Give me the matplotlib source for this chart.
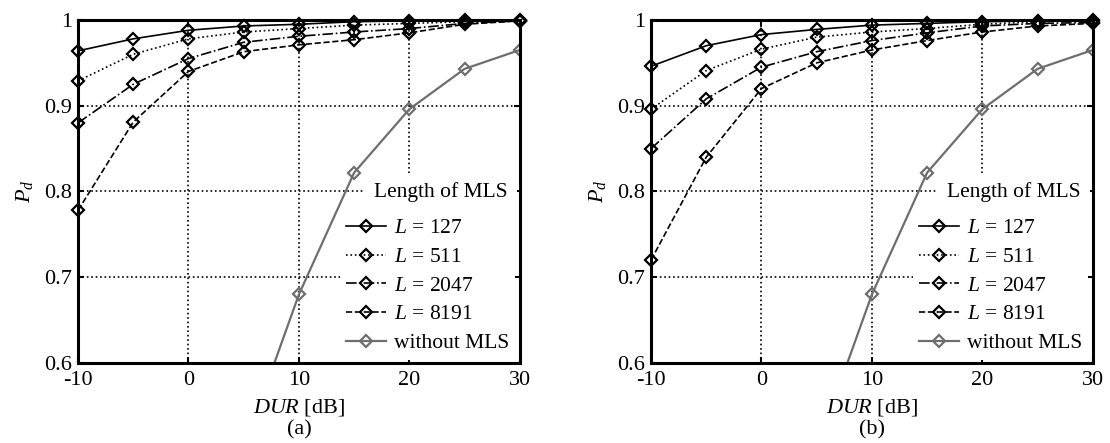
import numpy as np
import matplotlib
matplotlib.use("Agg")
import matplotlib.pyplot as plt

plt.rcParams['font.family'] = 'Liberation Serif'
plt.rcParams['mathtext.fontset'] = 'custom'
plt.rcParams['mathtext.rm'] = 'Liberation Serif'
plt.rcParams['mathtext.it'] = 'Liberation Serif:italic'
plt.rcParams['axes.unicode_minus'] = False
plt.rcParams['font.size'] = 15.5

# DUR axis values [dB]
dur = [-10, -5, 0, 5, 10, 15, 20, 25, 30]
dur_no_mls = [5, 10, 15, 20, 25, 30]

# panel (a)
pd_a_127 = [0.964, 0.978, 0.988, 0.993, 0.995, 0.998, 0.999, 1.000, 1.000]
pd_a_511 = [0.929, 0.960, 0.978, 0.986, 0.990, 0.994, 0.996, 0.998, 0.999]
pd_a_2047 = [0.880, 0.925, 0.955, 0.974, 0.981, 0.986, 0.990, 0.996, 0.999]
pd_a_8191 = [0.778, 0.881, 0.940, 0.963, 0.971, 0.977, 0.985, 0.995, 0.999]
pd_a_none = [0.50, 0.680, 0.822, 0.896, 0.943, 0.965]

# panel (b)
pd_b_127 = [0.946, 0.970, 0.983, 0.989, 0.994, 0.996, 0.998, 0.999, 1.000]
pd_b_511 = [0.896, 0.941, 0.966, 0.980, 0.986, 0.990, 0.995, 0.998, 0.999]
pd_b_2047 = [0.850, 0.908, 0.945, 0.963, 0.976, 0.985, 0.993, 0.996, 0.997]
pd_b_8191 = [0.720, 0.840, 0.920, 0.950, 0.965, 0.976, 0.986, 0.993, 0.996]
pd_b_none = [0.50, 0.680, 0.822, 0.896, 0.943, 0.965]

labels = ['$L$ = 127', '$L$ = 511', '$L$ = 2047', '$L$ = 8191', 'without MLS']
styles = ['-', ':', '-.', '--']
xticks = [-10, 0, 10, 20, 30]
yticks = [0.6, 0.7, 0.8, 0.9, 1.0]
yticklabels = ['0.6', '0.7', '0.8', '0.9', '1']

fig = plt.figure(figsize=(11.1, 4.43), dpi=100)
ax_a = fig.add_axes([0.0703, 0.1806, 0.398, 0.7743])
ax_b = fig.add_axes([0.5865, 0.1806, 0.398, 0.7743])


def draw_panel(ax, series, none_vals, tag):
    for vals, ls, lab in zip(series, styles, labels[:4]):
        ax.plot(dur, vals, linestyle=ls, color='black', lw=1.2,
                marker='D', markersize=6, markerfacecolor='none',
                markeredgecolor='black', markeredgewidth=1.6,
                label=lab, clip_on=False, zorder=4)
    ax.plot(dur_no_mls, none_vals, linestyle='-', color='#6e6e6e', lw=1.6,
            marker='D', markersize=6, markerfacecolor='none',
            markeredgecolor='#6e6e6e', markeredgewidth=1.6,
            label=labels[4], zorder=4)

    ax.set_xlim(-10, 30)
    ax.set_ylim(0.6, 1.0)
    ax.set_xticks(xticks)
    ax.set_xticklabels([str(t) for t in xticks])
    ax.set_yticks(yticks)
    ax.set_yticklabels(yticklabels)
    ax.tick_params(direction='in', length=4, width=1.5, top=True, right=True,
                   labelsize=16)
    ax.tick_params(axis='x', pad=6)
    ax.tick_params(axis='y', pad=4)
    for sp in ax.spines.values():
        sp.set_linewidth(2.2)
        sp.set_zorder(10)
    ax.grid(True, color='black', linestyle=':', linewidth=1.2)
    ax.set_axisbelow(True)

    ax.set_ylabel('$P_d$', fontsize=16)
    ax.yaxis.set_label_coords(-0.097, 0.5)
    ax.set_xlabel('$DUR$ [dB]', fontsize=16)
    ax.xaxis.set_label_coords(0.5, -0.10)
    ax.text(0.5, -0.195, tag, transform=ax.transAxes, ha='center',
            va='center', fontsize=16)

    leg = ax.legend(loc='lower right', bbox_to_anchor=(0.99, 0.01),
                    borderaxespad=0.0, frameon=True, fancybox=False,
                    framealpha=1.0, facecolor='white', edgecolor='none',
                    fontsize=15.5, handlelength=1.85, handletextpad=0.35,
                    labelspacing=0.4, borderpad=0.3)
    leg.set_zorder(5)
    ax.text(0.972, 0.497, 'Length of MLS', transform=ax.transAxes,
            ha='right', va='center', fontsize=15.5, zorder=6,
            bbox=dict(boxstyle='square,pad=0.45', facecolor='white',
                      edgecolor='none'))


draw_panel(ax_a, [pd_a_127, pd_a_511, pd_a_2047, pd_a_8191], pd_a_none, '(a)')
draw_panel(ax_b, [pd_b_127, pd_b_511, pd_b_2047, pd_b_8191], pd_b_none, '(b)')

fig.savefig('out.png', dpi=100)
